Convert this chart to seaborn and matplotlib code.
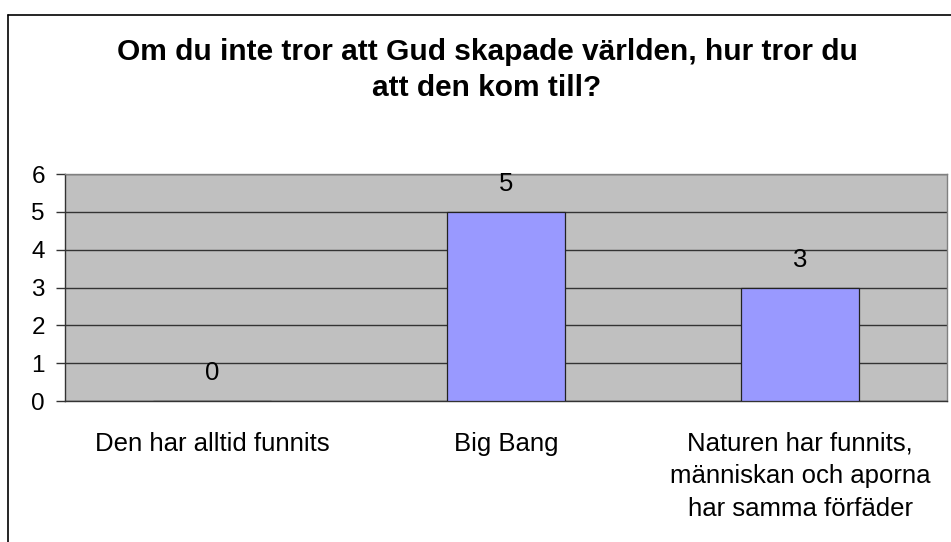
import matplotlib
matplotlib.use("Agg")
import matplotlib.pyplot as plt
import seaborn as sns
import pandas as pd
from matplotlib.lines import Line2D

categories = ["Den har alltid funnits", "Big Bang",
              "Naturen har funnits,\nmänniskan och aporna\nhar samma förfäder"]
values = [0, 5, 3]
yticks = [0, 1, 2, 3, 4, 5, 6]
title = "Om du inte tror att Gud skapade världen, hur tror du\natt den kom till?"

sns.set_style("white")
plt.rcParams["font.family"] = ["Liberation Sans", "DejaVu Sans"]
plt.rcParams["text.color"] = "black"
plt.rcParams["xtick.color"] = "black"
plt.rcParams["ytick.color"] = "black"

W, H = 951, 542
fig = plt.figure(figsize=(W / 100, H / 100), dpi=100)
ax = fig.add_axes([65 / W, (H - 401) / H, (947 - 65) / W, (401 - 174) / H])
ax.set_facecolor("#C0C0C0")

df = pd.DataFrame({"cat": categories, "val": values})
sns.barplot(data=df, x="cat", y="val", ax=ax, color="#9999FF", width=0.4,
            edgecolor="#222222", linewidth=0.9, saturation=1, zorder=3)

ax.set_ylim(0, 6)
ax.set_xlim(-0.5, 2.5)
ax.set_yticks(yticks)
ax.set_yticklabels([str(t) for t in yticks], fontsize=17.5)
ax.yaxis.grid(True, color="#333333", linewidth=1.0, zorder=1)
ax.set_axisbelow(True)

ax.set_xticks(range(len(categories)))
ax.set_xticklabels(categories, fontsize=18.5, linespacing=1.45, va="top")
ax.set_xticks([-0.5, 0.5, 1.5, 2.5], minor=True)
ax.tick_params(axis="x", which="major", length=0, pad=22)
ax.tick_params(axis="x", which="minor", length=6, width=1, color="#333333", direction="out")
ax.tick_params(axis="y", which="major", length=6.5, width=1, color="#333333", direction="out",
               left=True, pad=8, labelcolor="black")
ax.tick_params(axis="x", labelcolor="black")
ax.set_xlabel("")
ax.set_ylabel("")

for s in ["left", "bottom"]:
    ax.spines[s].set_color("#333333")
    ax.spines[s].set_linewidth(1.0)
for s in ["top", "right"]:
    ax.spines[s].set_color("#808080")
    ax.spines[s].set_linewidth(1.0)

for i, v in enumerate(values):
    ax.annotate(str(v), xy=(i, v), xytext=(0, 28), textcoords="offset pixels",
                ha="center", va="center", fontsize=18.5, color="black", zorder=5)

fig.text(487 / W, 1 - 70 / H, title, ha="center", va="center", fontsize=21.5,
         fontweight="bold", linespacing=1.32, color="black")

# outer chart border (left and top visible; chart continues beyond the image)
fig.add_artist(Line2D([7.5 / W, 7.5 / W], [0, 1 - 14.5 / H], transform=fig.transFigure,
                      color="black", linewidth=1.2))
fig.add_artist(Line2D([7.5 / W, 1], [1 - 14.5 / H, 1 - 14.5 / H], transform=fig.transFigure,
                      color="black", linewidth=1.2))

fig.savefig("out.png", dpi=100)
